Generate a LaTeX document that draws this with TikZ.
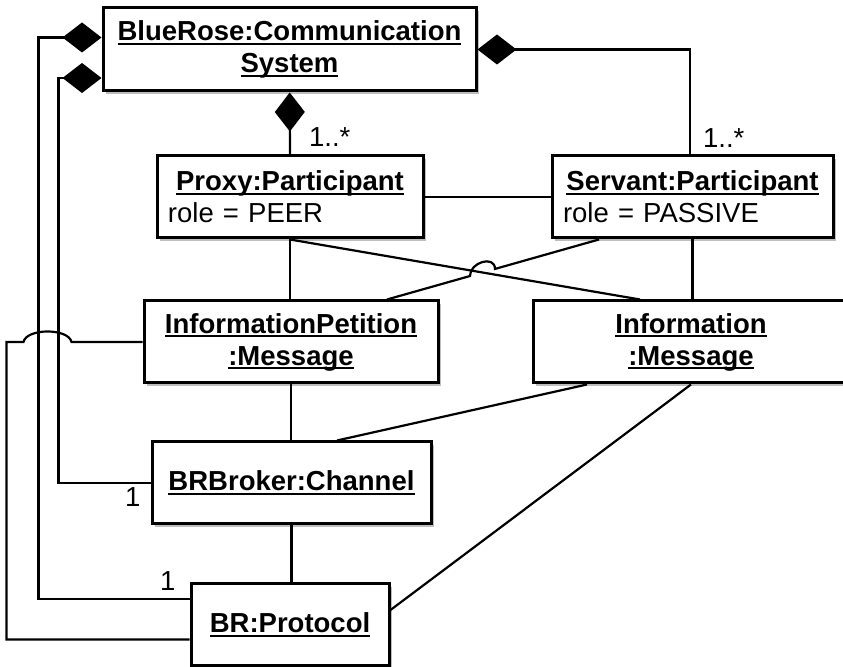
\documentclass[tikz,border=0pt]{standalone}
\usepackage{fontspec}
\setmainfont{Liberation Sans}
\usetikzlibrary{arrows.meta,positioning,shadows,calc}
\definecolor{ink}{HTML}{000000}
\definecolor{shade}{HTML}{6E6E6E}
\newcommand\ulname[1]{\setbox0=\hbox{\bfseries #1}\rlap{\rule[-2.2pt]{\wd0}{1.1pt}}\box0}

\begin{document}
\begin{tikzpicture}[x=0.5pt, y=-0.5pt,
      obj/.style={draw=ink, line width=1.5pt, fill=white, inner xsep=5.5pt, inner ysep=0pt, align=center,
        font=\fontsize{13.75}{16}\selectfont,
        drop shadow={shadow xshift=1.5pt, shadow yshift=-1.5pt, fill=shade, opacity=0.45}},
      link/.style={draw=ink, line width=1.1pt},
      comp/.style={link, {Diamond[length=19.5pt, width=15pt]}-},
      lbl/.style={inner sep=0pt, font=\fontsize{13.75}{16}\selectfont}]
    \useasboundingbox (0,0) rectangle (843,667);
    \clip (0,0) rectangle (843,667);
    % objects
    \node[obj, minimum width=186.5pt, minimum height=41.5pt] (sys) at (289.5,49.5) {\ulname{BlueRose:Communication}\\\ulname{System}};
    \node[obj, align=left, text width=122pt, minimum height=41pt] (proxy) at (290,197) {\makebox[\hsize][c]{\ulname{Proxy:Participant}}\\role = PEER};
    \node[obj, align=left, text width=129.5pt, minimum height=41pt] (servant) at (692.5,197) {\makebox[\hsize][c]{\ulname{Servant:Participant}}\\role = PASSIVE};
    \node[obj, minimum width=147pt, minimum height=41pt] (petition) at (291,342) {\ulname{InformationPetition}\\\ulname{:Message}};
    \node[obj, minimum width=158pt, minimum height=41pt] (info) at (691,342) {\ulname{Information}\\\ulname{:Message}};
    \node[obj, minimum width=139.5pt, minimum height=41pt] (broker) at (291.5,483) {\ulname{BRBroker:Channel}};
    \node[obj, minimum width=99pt, minimum height=41pt] (protocol) at (290,625) {\ulname{BR:Protocol}};
    % compositions
    \draw[comp] (sys) -- (proxy.north) node[lbl, above right=3.5pt and 9pt] {1..*};
    \draw[comp] (sys.east) -| ([xshift=-1.25pt]servant.north) node[lbl, above right=3pt and 6pt] {1..*};
    \draw[comp] ([yshift=6pt]sys.west) -- ++(-63,0) |- ([yshift=13pt]protocol.west) node[lbl, above left=3.5pt and 6.5pt] {1};
    \draw[comp] ([yshift=-14.25pt]sys.west) -- ++(-43,0) |- (broker.west) node[lbl, below left=1.5pt and 4.5pt] {1};
    % links
    \draw[link] (proxy) -- (servant);
    \draw[link] (proxy.south) -- (proxy.south |- petition.north);
    \draw[link] (servant.south) -- (servant.south |- info.north);
    \draw[link] (petition.south) -- (petition.south |- broker.north);
    \draw[link] (broker.south) -- (broker.south |- protocol.north);
    \coordinate (pin) at ([xshift=-25.5pt]info.north);
    \coordinate (sout) at ([xshift=-46.75pt]servant.south);
    \coordinate (pout) at ([xshift=48pt]petition.north);
    \coordinate (hop) at (intersection of proxy.south--pin and sout--pout);
    \draw[link] (proxy.south) -- (pin);
    \draw[link] (sout) -- ($(hop)!6.5pt!(sout)$) .. controls +(0,-14) and +(0,-14) .. ($(hop)!6.5pt!(pout)$) -- (pout);
    \draw[link] (petition.west) -- ++(-71,0) .. controls +(-3,-14) and +(3,-14) .. ++(-48,0) -- ++(-17,0) |- ([yshift=-7.25pt]protocol.west);
    \draw[link] ([xshift=-52pt]info.south) -- ([xshift=22.75pt]broker.north);
    \draw[link] (info.south) -- ([yshift=7.5pt]protocol.east);
  \end{tikzpicture}
\end{document}
